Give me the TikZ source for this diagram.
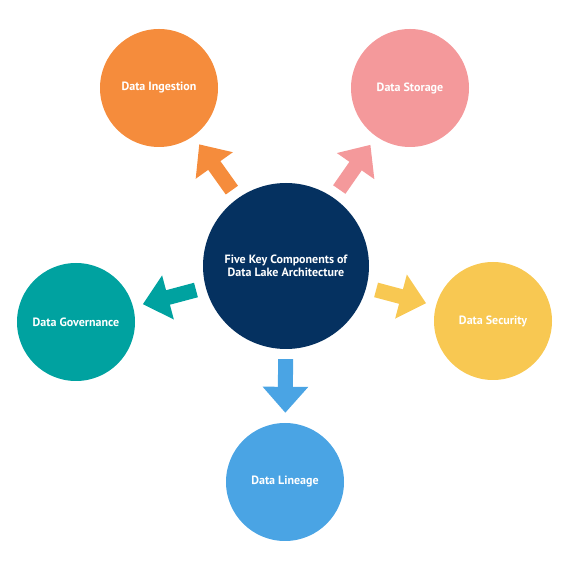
\documentclass[tikz,border=0pt]{standalone}
\usepackage{fontspec}
\setmainfont{PT Sans}
\usetikzlibrary{arrows.meta}

\definecolor{corecol}{RGB}{5,49,96}
\definecolor{ingcol}{RGB}{245,140,60}
\definecolor{storcol}{RGB}{244,153,155}
\definecolor{govcol}{RGB}{0,162,160}
\definecolor{seccol}{RGB}{248,200,82}
\definecolor{lincol}{RGB}{74,164,228}

\begin{document}
\begin{tikzpicture}[
            x=1pt, y=1pt,
            part/.style={circle, minimum size=118pt, inner sep=0pt, text=white,
                font=\bfseries\fontsize{12}{13}\selectfont},
            pointer/.style={line width=15pt, -{Triangle[width=44pt, length=26pt]},
                shorten <=10pt, shorten >=10pt},
        ]
            \useasboundingbox (0, 0) rectangle (570, 570);
            \node[part, fill=corecol, minimum size=166pt, align=center] (core) at (286, 304)
                {Five Key Components of\\Data Lake Architecture};
            \node[part, fill=ingcol] (ingestion) at (159, 482) {Data Ingestion};
            \node[part, fill=storcol] (storage) at (410, 482) {Data Storage};
            \node[part, fill=govcol] (governance) at (76, 248) {Data Governance};
            \node[part, fill=seccol] (security) at (493, 249) {Data Security};
            \node[part, fill=lincol] (lineage) at (285, 88) {Data Lineage};
            \path (core) edge[pointer, ingcol] (ingestion);
            \path (core) edge[pointer, storcol] (storage);
            \path (core) edge[pointer, govcol] (governance);
            \path (core) edge[pointer, seccol] (security);
            \path (core) edge[pointer, lincol] (lineage);
        \end{tikzpicture}
\end{document}
